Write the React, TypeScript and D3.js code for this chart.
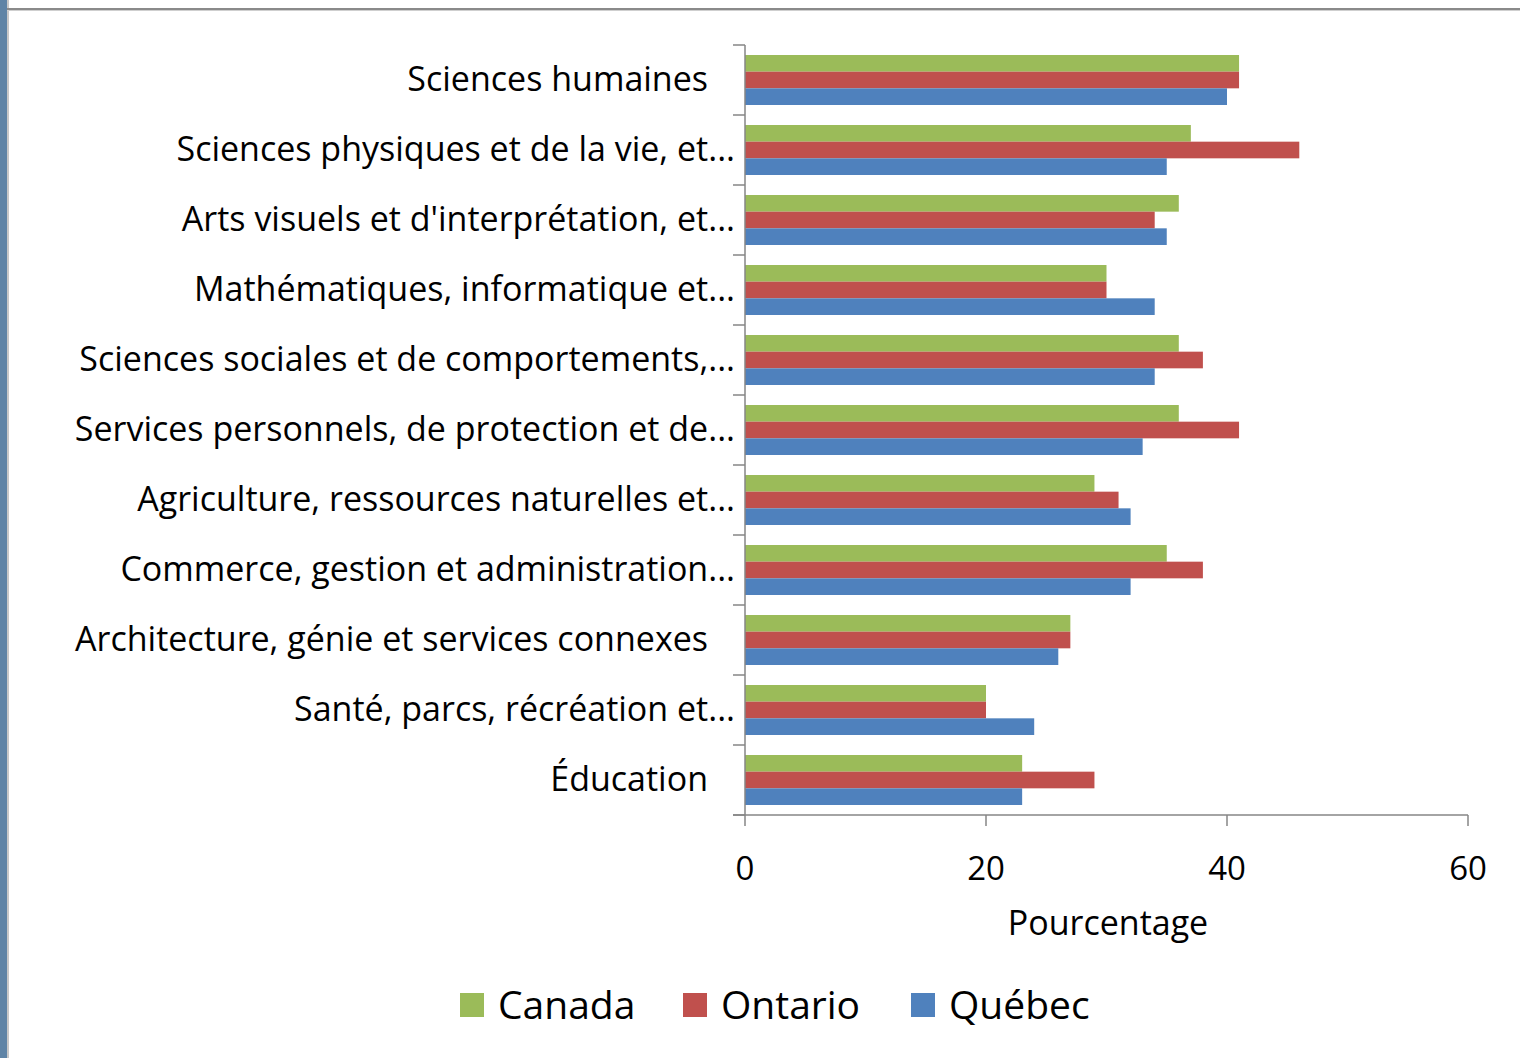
import { useEffect, useRef } from "react";
import * as d3 from "d3";

const categories = [
  "Sciences humaines",
  "Sciences physiques et de la vie, et...",
  "Arts visuels et d'interprétation, et...",
  "Mathématiques, informatique et...",
  "Sciences sociales et de comportements,...",
  "Services personnels, de protection et de...",
  "Agriculture, ressources naturelles et...",
  "Commerce, gestion et administration...",
  "Architecture, génie et services connexes",
  "Santé, parcs, récréation et...",
  "Éducation",
];

const canada = [41, 37, 36, 30, 36, 36, 29, 35, 27, 20, 23];
const ontario = [41, 46, 34, 30, 38, 41, 31, 38, 27, 20, 29];
const quebec = [40, 35, 35, 34, 34, 33, 32, 32, 26, 24, 23];

const seriesNames = ["Canada", "Ontario", "Québec"];
const seriesColors = ["#9BBB59", "#C0504D", "#4F81BD"];
const xTicks = [0, 20, 40, 60];

const W = 1520;
const H = 1058;
const FONT = "'Open Sans', 'DejaVu Sans', sans-serif";

export default function App() {
  const svgRef = useRef<SVGSVGElement>(null);

  useEffect(() => {
    if (!svgRef.current) return;
    const svg = d3.select(svgRef.current);
    svg.selectAll("*").remove();

    // frame decoration
    svg.append("rect").attr("x", 0).attr("y", 0).attr("width", W).attr("height", H).attr("fill", "#fff");
    svg.append("rect").attr("x", 0).attr("y", 0).attr("width", 7).attr("height", H).attr("fill", "#5F84A6");
    svg.append("rect").attr("x", 7).attr("y", 0).attr("width", 2).attr("height", H).attr("fill", "#c8c8c8");
    svg.append("rect").attr("x", 7).attr("y", 8).attr("width", W).attr("height", 2).attr("fill", "#8a8a8a");
    svg.append("rect").attr("x", 7).attr("y", 10).attr("width", W).attr("height", 1).attr("fill", "#cfcfcf");

    const left = 745;
    const right = 1468;
    const top = 45;
    const bottom = 815;

    const x = d3.scaleLinear().domain([0, 60]).range([left, right]);
    const y = d3.scaleBand<string>().domain(categories).range([top, bottom]);
    const inner = d3
      .scaleBand<string>()
      .domain(seriesNames)
      .range([y.bandwidth() * 0.143, y.bandwidth() * 0.857]);

    const values = [canada, ontario, quebec];
    const axisColor = "#868686";

    // bars
    const rows = categories.map((c, i) => ({ c, vals: values.map((v) => v[i]) }));
    const groups = svg
      .append("g")
      .selectAll("g")
      .data(rows)
      .join("g")
      .attr("transform", (d) => `translate(0,${y(d.c)})`);
    groups
      .selectAll("rect")
      .data((d) => d.vals.map((v, k) => ({ v, k })))
      .join("rect")
      .attr("x", x(0))
      .attr("y", (d) => inner(seriesNames[d.k])!)
      .attr("height", inner.bandwidth())
      .attr("width", (d) => x(d.v) - x(0))
      .attr("fill", (d) => seriesColors[d.k]);

    // y axis
    const yAxis = svg.append("g").attr("stroke", axisColor).attr("stroke-width", 1.5);
    yAxis.append("line").attr("x1", left).attr("x2", left).attr("y1", top).attr("y2", bottom);
    const bounds = [...categories.map((c) => y(c)!), bottom];
    yAxis
      .selectAll("line.tick")
      .data(bounds)
      .join("line")
      .attr("class", "tick")
      .attr("x1", left - 12)
      .attr("x2", left)
      .attr("y1", (d) => d)
      .attr("y2", (d) => d);

    // x axis
    const xAxis = svg.append("g").attr("stroke", axisColor).attr("stroke-width", 1.5);
    xAxis.append("line").attr("x1", left - 12).attr("x2", right).attr("y1", bottom).attr("y2", bottom);
    xAxis
      .selectAll("line.tick")
      .data(xTicks)
      .join("line")
      .attr("class", "tick")
      .attr("x1", (d) => x(d))
      .attr("x2", (d) => x(d))
      .attr("y1", bottom)
      .attr("y2", bottom + 11);

    svg
      .append("g")
      .selectAll("text")
      .data(xTicks)
      .join("text")
      .attr("x", (d) => x(d))
      .attr("y", 880)
      .attr("text-anchor", "middle")
      .attr("font-family", FONT)
      .attr("font-size", 33)
      .attr("fill", "#000")
      .text((d) => d);

    svg
      .append("text")
      .attr("x", 1108)
      .attr("y", 935)
      .attr("text-anchor", "middle")
      .attr("font-family", FONT)
      .attr("font-size", 34)
      .text("Pourcentage");

    // category labels
    svg
      .append("g")
      .selectAll("text")
      .data(categories)
      .join("text")
      .attr("x", (d) => (d.endsWith("...") ? 735 : 708))
      .attr("y", (d) => y(d)! + y.bandwidth() / 2 + 11)
      .attr("text-anchor", "end")
      .attr("font-family", FONT)
      .attr("font-size", 34)
      .attr("fill", "#000")
      .text((d) => d);

    // legend
    const legendX = [460, 683, 911];
    const legend = svg
      .append("g")
      .selectAll("g")
      .data(seriesNames)
      .join("g")
      .attr("transform", (_d, i) => `translate(${legendX[i]},993)`);
    legend
      .append("rect")
      .attr("width", 24)
      .attr("height", 24)
      .attr("fill", (_d, i) => seriesColors[i]);
    legend
      .append("text")
      .attr("x", 38)
      .attr("y", 26)
      .attr("font-family", FONT)
      .attr("font-size", 39)
      .text((d) => d);
  }, []);

  return (
    <svg
      ref={svgRef}
      width={W}
      height={H}
      viewBox={`0 0 ${W} ${H}`}
      style={{ position: "absolute", left: 0, top: 0, display: "block" }}
    />
  );
}
